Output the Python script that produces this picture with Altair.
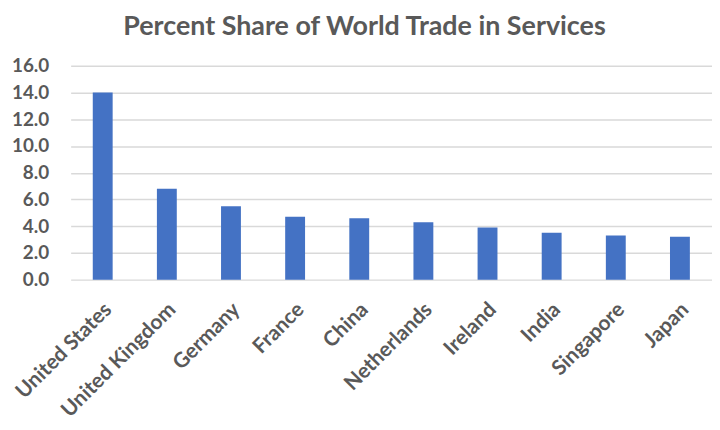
import altair as alt
import pandas as pd

countries = ["United States", "United Kingdom", "Germany", "France", "China",
             "Netherlands", "Ireland", "India", "Singapore", "Japan"]
shares = [14.0, 6.8, 5.5, 4.7, 4.6, 4.3, 3.9, 3.5, 3.3, 3.2]
y_ticks = [0, 2, 4, 6, 8, 10, 12, 14, 16]

df = pd.DataFrame({"country": countries, "share": shares})

FONT = "Lato"
GRAY = "#595959"

chart = alt.Chart(df).mark_bar(color="#4472C4").encode(
    x=alt.X("country:N", sort=countries, title=None,
            scale=alt.Scale(paddingInner=0.69, paddingOuter=0.345),
            axis=alt.Axis(labelAngle=-45, labelFont=FONT, labelFontSize=21,
                          labelFontWeight="bold", labelColor=GRAY,
                          ticks=False, domain=False, labelPadding=19,
                          labelOffset=-2)),
    y=alt.Y("share:Q", title=None,
            scale=alt.Scale(domain=[0, 16], nice=False),
            axis=alt.Axis(values=y_ticks, format=".1f", labelFont=FONT,
                          labelFontSize=19, labelFontWeight="bold",
                          labelColor=GRAY, ticks=False, domain=False,
                          labelPadding=22, gridColor="#D9D9D9", gridWidth=1.5)),
).properties(
    width=645, height=215,
    title=alt.TitleParams("Percent Share of World Trade in Services",
                          font=FONT, fontSize=27, fontWeight="bold",
                          color=GRAY, anchor="middle", dx=-27, offset=16),
    autosize=alt.AutoSizeParams(type="none"),
    padding={"left": 63, "top": 57, "right": 0, "bottom": 140},
).configure_view(stroke=None)

chart.save("out.html", embed_options={"renderer": "svg", "actions": False})
